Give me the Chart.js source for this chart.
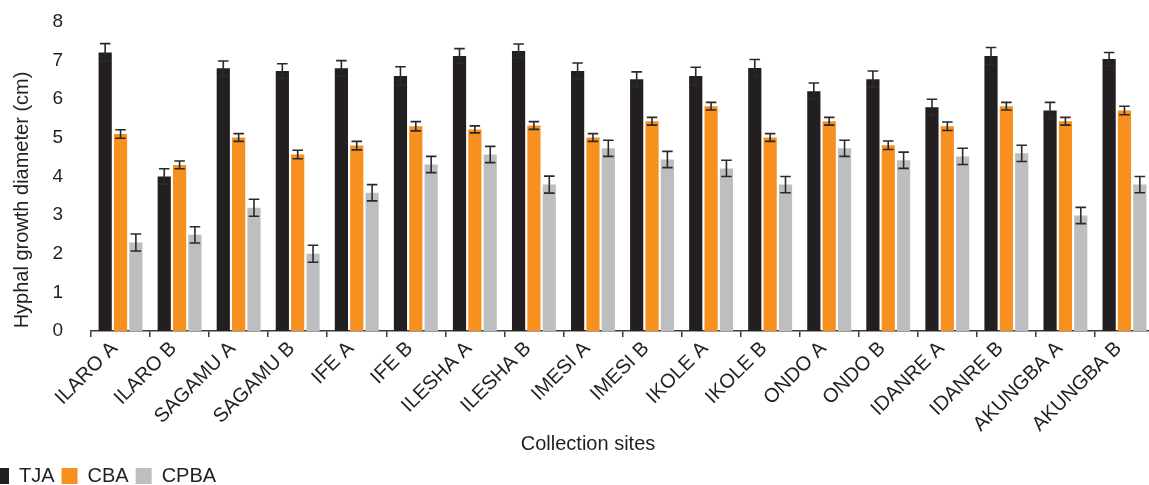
<!DOCTYPE html>
<html><head><meta charset="utf-8">
<script src="https://cdn.jsdelivr.net/npm/chart.js@4.4.0/dist/chart.umd.min.js"></script>
<style>
html,body{margin:0;padding:0;background:#fff;overflow:hidden;width:1149px;height:485px;position:relative;}
#wrap{position:absolute;left:-7px;top:0;width:1163px;height:496px;}
canvas{display:block;}
</style></head><body>
<div id="wrap"><canvas id="c" width="1163" height="496" style="width:1163px;height:496px"></canvas></div>
<script>
const categories = ["ILARO A","ILARO B","SAGAMU A","SAGAMU B","IFE A","IFE B","ILESHA A","ILESHA B","IMESI A","IMESI B","IKOLE A","IKOLE B","ONDO A","ONDO B","IDANRE A","IDANRE B","AKUNGBA A","AKUNGBA B"];
const tjaValues  = [7.21,4.00,6.80,6.73,6.80,6.60,7.12,7.25,6.73,6.52,6.60,6.81,6.21,6.52,5.79,7.12,5.71,7.04];
const tjaErrors  = [0.23,0.20,0.19,0.19,0.20,0.24,0.19,0.18,0.21,0.19,0.23,0.22,0.21,0.21,0.21,0.22,0.21,0.17];
const cbaValues  = [5.10,4.30,5.01,4.57,4.80,5.30,5.22,5.32,5.01,5.43,5.82,5.01,5.43,4.81,5.30,5.82,5.43,5.71];
const cbaErrors  = [0.11,0.10,0.10,0.11,0.11,0.12,0.09,0.10,0.10,0.10,0.10,0.10,0.10,0.11,0.11,0.10,0.10,0.11];
const cpbaValues = [2.29,2.49,3.19,2.00,3.58,4.31,4.57,3.79,4.73,4.44,4.21,3.79,4.73,4.42,4.52,4.60,2.99,3.79];
const cpbaErrors = [0.22,0.21,0.22,0.22,0.21,0.21,0.21,0.22,0.21,0.21,0.21,0.21,0.21,0.21,0.21,0.21,0.21,0.21];
const yTicks = [0,1,2,3,4,5,6,7,8];
const seriesNames = ["TJA","CBA","CPBA"];
const xTitle = "Collection sites";
const yTitle = "Hyphal growth diameter (cm)";

const FONT = "'Liberation Sans', Arial, Helvetica, sans-serif";
const TEXT = "#231f20";

const errorBars = {
  id: 'errorBars',
  afterDatasetsDraw(chart) {
    const ctx = chart.ctx;
    const ys = chart.scales.y;
    ctx.save();
    ctx.strokeStyle = '#2a2a2a';
    ctx.lineWidth = 1.6;
    chart.data.datasets.forEach((ds, di) => {
      const meta = chart.getDatasetMeta(di);
      meta.data.forEach((bar, i) => {
        const v = ds.data[i], e = ds.errors[i];
        const yt = ys.getPixelForValue(v + e), yb = ys.getPixelForValue(v - e);
        const half = bar.width * 0.4;
        ctx.beginPath();
        ctx.moveTo(bar.x, yt); ctx.lineTo(bar.x, yb);
        ctx.moveTo(bar.x - half, yt); ctx.lineTo(bar.x + half, yt);
        ctx.moveTo(bar.x - half, yb); ctx.lineTo(bar.x + half, yb);
        ctx.stroke();
      });
    });
    ctx.restore();
  }
};

const axisTitles = {
  id: 'axisTitles',
  afterDraw(chart) {
    const ctx = chart.ctx;
    ctx.save();
    ctx.fillStyle = TEXT;
    ctx.font = "20px " + FONT;
    ctx.textAlign = 'center';
    ctx.textBaseline = 'middle';
    ctx.fillText(xTitle, 595, 444);
    ctx.translate(29, 200);
    ctx.rotate(-Math.PI/2);
    ctx.fillText(yTitle, 0, 0);
    ctx.restore();
  }
};

const legendShift = {
  id: 'legendShift',
  afterLayout(chart) { if (chart.legend) { chart.legend.left -= 7; } }
};

new Chart(document.getElementById('c'), {
  type: 'bar',
  data: {
    labels: categories,
    datasets: [
      { label: seriesNames[0], data: tjaValues, errors: tjaErrors, backgroundColor: '#231f20' },
      { label: seriesNames[1], data: cbaValues, errors: cbaErrors, backgroundColor: '#f7901e' },
      { label: seriesNames[2], data: cpbaValues, errors: cpbaErrors, backgroundColor: '#bcbec0' }
    ]
  },
  options: {
    responsive: false,
    animation: false,
    devicePixelRatio: 1,
    layout: { padding: { top: 22, right: 2, left: 0, bottom: 0 } },
    datasets: { bar: { categoryPercentage: 0.78, barPercentage: 0.86 } },
    plugins: {
      legend: {
        position: 'bottom', align: 'start',
        labels: { boxWidth: 16, boxHeight: 16, padding: 7, color: TEXT, font: { family: FONT, size: 20 } }
      },
      tooltip: { enabled: false }
    },
    scales: {
      x: {
        afterFit(s) { s.height = 128; s.paddingTop = 0; s.paddingBottom = 0; },
        grid: { display: true, drawOnChartArea: false, drawTicks: true, tickLength: 6, color: '#3a3a3a', lineWidth: 1.5 },
        border: { display: true, color: '#3a3a3a', width: 1.5 },
        ticks: { autoSkip: false, maxRotation: 45, minRotation: 45, labelOffset: -6, color: TEXT, font: { family: FONT, size: 20 }, padding: 0 }
      },
      y: {
        min: 0, max: 8,
        afterFit(s) { s.width = 98; s.paddingTop = 0; s.paddingBottom = 0; },
        afterBuildTicks(s) { s.ticks = yTicks.map(v => ({ value: v })); },
        grid: { display: false, drawTicks: false },
        border: { display: false },
        ticks: { color: TEXT, font: { family: FONT, size: 19 }, padding: 28 }
      }
    }
  },
  plugins: [errorBars, axisTitles, legendShift]
});
</script>
</body></html>
